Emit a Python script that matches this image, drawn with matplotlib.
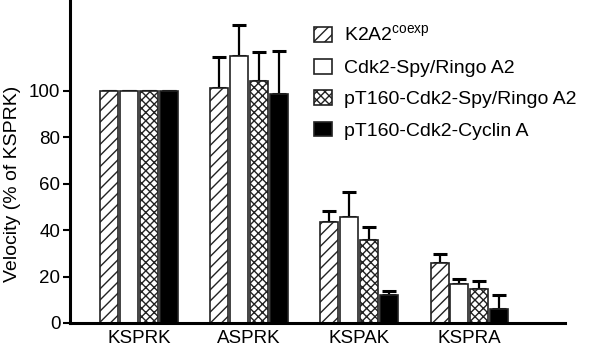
import numpy as np
import matplotlib
matplotlib.use("Agg")
import matplotlib.pyplot as plt

plt.rcParams['font.family'] = ['Liberation Sans', 'DejaVu Sans']
plt.rcParams['mathtext.fontset'] = 'custom'
plt.rcParams['mathtext.rm'] = 'Liberation Sans'
plt.rcParams['hatch.linewidth'] = 1.0

substrates = ["KSPRK", "ASPRK", "KSPAK", "KSPRA"]
series = ["K2A2$^{\\rm coexp}$", "Cdk2-Spy/Ringo A2",
          "pT160-Cdk2-Spy/Ringo A2", "pT160-Cdk2-Cyclin A"]
velocity = [
    [100, 101, 43.4, 25.7],
    [100, 114.8, 45.8, 16.8],
    [100, 104, 35.5, 14.8],
    [100, 98.6, 11.9, 5.9],
]
err = [
    [0, 13.5, 4.6, 3.9],
    [0, 13.5, 10.4, 2.0],
    [0, 12.8, 5.7, 3.3],
    [0, 18.4, 1.9, 6.0],
]
faces = ["white", "white", "white", "black"]
hatches = ["///", None, "xxxx", None]

fig = plt.figure(figsize=(6, 3.54), dpi=100)
ax = fig.add_axes([0.1167, 0.0876, 0.825, 0.9124])

x = np.arange(len(substrates))
w = 0.164
step = 0.18
handles = []
for i in range(4):
    pos = x + (i - 1.5) * step
    b = ax.bar(pos, velocity[i], w, color=faces[i], edgecolor="#222222",
               linewidth=1.2, hatch=hatches[i], label=series[i], zorder=2)
    handles.append(b)
    ax.errorbar(pos, velocity[i], yerr=[np.zeros(4), err[i]], fmt="none",
                ecolor="black", elinewidth=1.6, capsize=5, capthick=2.2, zorder=1)

ax.set_xlim(-0.627, 3.87)
ax.set_ylim(0, 139)
ax.set_yticks([0, 20, 40, 60, 80, 100])
ax.set_xticks(x)
ax.set_xticklabels(substrates, fontsize=13.5)
ax.tick_params(axis="y", labelsize=13.5, width=1.5, length=5, direction="out", pad=2)
ax.tick_params(axis="x", length=0, pad=5)
ax.set_ylabel("Velocity (% of KSPRK)", fontsize=14)
ax.yaxis.set_label_coords(-0.10, 0.43)

for s in ["top", "right"]:
    ax.spines[s].set_visible(False)
ax.spines["left"].set_linewidth(2.2)
ax.spines["bottom"].set_linewidth(2.2)

ax.legend(handles=handles, loc="upper left", bbox_to_anchor=(0.523, 0.93),
          bbox_transform=fig.transFigure, frameon=False, fontsize=14,
          handlelength=0.95, handleheight=0.8, handletextpad=0.6,
          labelspacing=0.68, borderaxespad=0, borderpad=0)

plt.savefig("out.png", dpi=100)
